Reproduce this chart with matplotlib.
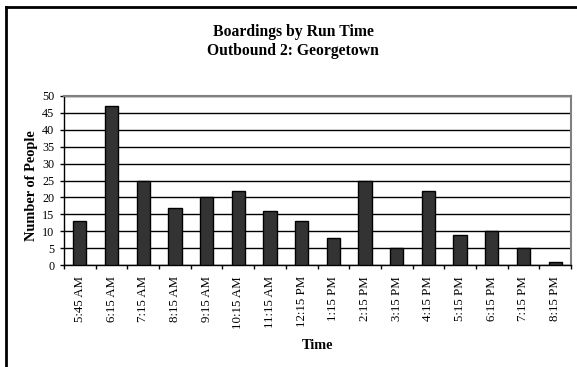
import numpy as np
import matplotlib.pyplot as plt
from matplotlib.lines import Line2D

times = ["5:45 AM", "6:15 AM", "7:15 AM", "8:15 AM", "9:15 AM", "10:15 AM",
         "11:15 AM", "12:15 PM", "1:15 PM", "2:15 PM", "3:15 PM", "4:15 PM",
         "5:15 PM", "6:15 PM", "7:15 PM", "8:15 PM"]
boardings = [13, 47, 25, 17, 20, 22, 16, 13, 8, 25, 5, 22, 9, 10, 5, 1]

plt.rcParams['font.family'] = ['Liberation Serif', 'DejaVu Serif']

fig = plt.figure(figsize=(5.77, 3.67), dpi=100)
ax = fig.add_axes([64 / 577, 1 - 265 / 367, (571 - 64) / 577, (265 - 96) / 367])

x = np.arange(len(times))
ax.bar(x, boardings, width=0.42, color="#333333", edgecolor="black",
       linewidth=1.0, zorder=3)

ax.set_xlim(-0.5, len(times) - 0.5)
ax.set_ylim(0, 50)
ax.set_yticks(np.arange(0, 51, 5))
ax.yaxis.grid(True, color="black", linewidth=1.0, zorder=0)
ax.set_axisbelow(True)

# category labels in the middle, tick marks on the boundaries
ax.set_xticks(np.arange(-0.5, len(times), 1.0))
ax.set_xticklabels([])
ax.set_xticks(x, minor=True)
ax.set_xticklabels(times, minor=True, rotation=90, fontsize=9.3)
ax.tick_params(axis="x", which="minor", length=0, pad=8)
ax.tick_params(axis="x", which="major", length=3, width=1, direction="out")
ax.tick_params(axis="y", length=3, width=1, direction="out", labelsize=8.7, pad=4)

for side in ["top", "right"]:
    ax.spines[side].set_color("#808080")
    ax.spines[side].set_linewidth(1.5)
for side in ["left", "bottom"]:
    ax.spines[side].set_color("black")
    ax.spines[side].set_linewidth(1.0)

ax.set_xlabel("Time", fontsize=10.3, fontweight="bold")
ax.xaxis.set_label_coords(0.5, -0.44)
fig.text(32 / 577, 1 - 186 / 367, "Number of People", rotation=90, ha="center",
         va="center", fontsize=10.4, fontweight="bold")

fig.text(293 / 577, 1 - 32 / 367, "Boardings by Run Time", ha="center",
         va="center", fontsize=11.3, fontweight="bold")
fig.text(293 / 577, 1 - 51 / 367, "Outbound 2: Georgetown", ha="center",
         va="center", fontsize=11.3, fontweight="bold")

# outer chart frame
fig.add_artist(Line2D([6 / 577, 6 / 577], [0, 1 - 7 / 367], transform=fig.transFigure,
                      color="black", linewidth=2))
fig.add_artist(Line2D([6 / 577, 1], [1 - 7 / 367, 1 - 7 / 367], transform=fig.transFigure,
                      color="black", linewidth=2))

fig.savefig("out.png", dpi=100)
